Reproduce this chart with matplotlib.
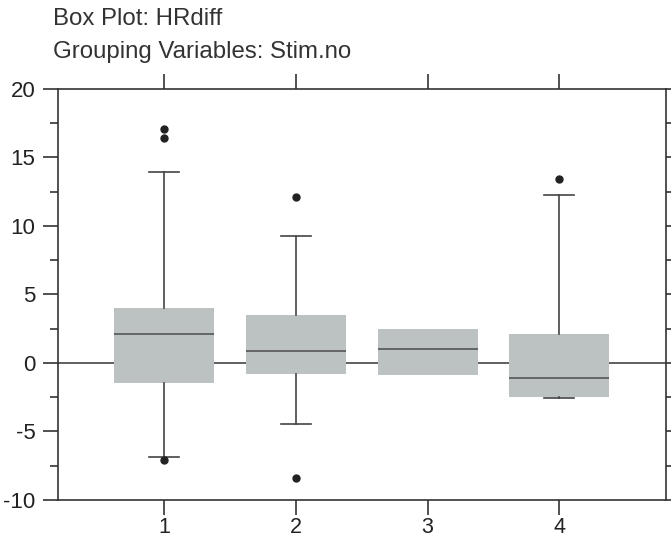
import matplotlib
matplotlib.use('Agg')
import matplotlib.pyplot as plt
from matplotlib.ticker import MultipleLocator

# box statistics, one entry per Stim.no group
groups  = ['1', '2', '3', '4']
q1      = [-1.45, -0.82, -0.89, -2.50]
med     = [ 2.15,  0.86,  0.99, -1.10]
q3      = [ 3.98,  3.47,  2.50,  2.15]
whislo  = [-6.87, -4.44, -0.89, -2.54]
whishi  = [13.95,  9.26,  2.50, 12.25]
fliers  = [[17.05, 16.40, -7.10], [12.10, -8.38], [], [13.45]]

plt.rcParams['font.family'] = ['Liberation Sans', 'DejaVu Sans']
plt.rcParams['axes.unicode_minus'] = False

fig = plt.figure(figsize=(6.71, 5.39), dpi=100)
ax = fig.add_axes([0.0857, 0.0724, 0.9068, 0.7625])

stats = []
for i in range(len(groups)):
    stats.append(dict(label=groups[i], q1=q1[i], med=med[i], q3=q3[i],
                      whislo=whislo[i], whishi=whishi[i], fliers=fliers[i]))

line_col = '#444444'
ax.axhline(0, color=line_col, lw=1.2, zorder=0)
bp = ax.bxp(stats, positions=[1, 2, 3, 4], widths=0.76, patch_artist=True,
            boxprops=dict(facecolor='#bcc2c1', edgecolor='none'),
            medianprops=dict(color='#555555', lw=1.2),
            whiskerprops=dict(color=line_col, lw=1.2),
            capprops=dict(color=line_col, lw=1.2),
            capwidths=0.23,
            flierprops=dict(marker='o', markersize=5, markerfacecolor='#222222',
                            markeredgecolor='#222222'))
# group 3 has no whiskers
for k in (4, 5):
    bp['caps'][k].set_visible(False)

ax.set_xlim(0.19, 4.81)
ax.set_ylim(-10, 20)
ax.yaxis.set_major_locator(MultipleLocator(5))
ax.yaxis.set_minor_locator(MultipleLocator(2.5))

for s in ax.spines.values():
    s.set_color('#333333')
    s.set_linewidth(1.2)

ax.tick_params(axis='y', which='major', direction='out', length=11, width=1.2,
               color='#333333', labelsize=16, labelcolor='#222222', pad=5, right=True)
ax.tick_params(axis='y', which='minor', direction='out', length=6, width=1.2,
               color='#333333', right=True)
ax.tick_params(axis='x', which='major', direction='out', length=11, width=1.2,
               color='#333333', labelsize=15.5, labelcolor='#222222', pad=1.5, top=True)

fig.text(0.079, 0.9536, 'Box Plot: HRdiff', fontsize=17.3, color='#333333', va='baseline')
fig.text(0.079, 0.8924, 'Grouping Variables: Stim.no', fontsize=17.3, color='#333333', va='baseline')

fig.savefig('out.png', dpi=100)
